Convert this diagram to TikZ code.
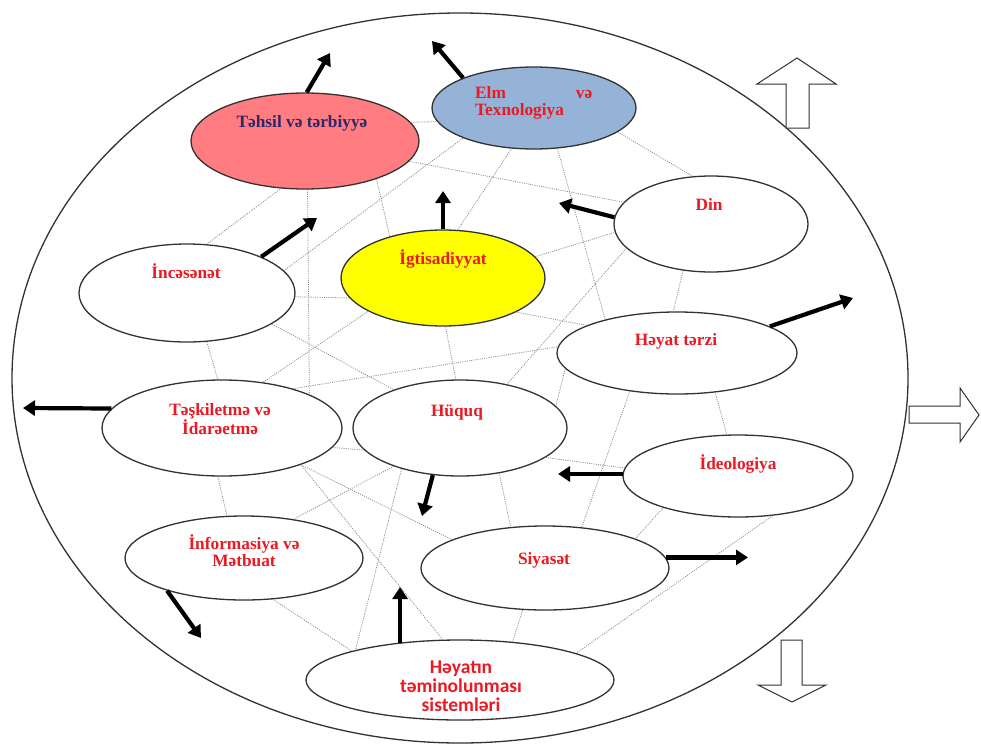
\documentclass[tikz,border=0pt]{standalone}
\usepackage{fontspec}
\setmainfont{Liberation Serif}
\newfontfamily\sansb{Carlito}
\usetikzlibrary{shapes.geometric,arrows.meta,calc}
\definecolor{lblred}{RGB}{235,25,35}
\definecolor{navy}{RGB}{45,40,105}
\definecolor{pinkfill}{RGB}{255,124,128}
\definecolor{bluefill}{RGB}{149,179,215}
\definecolor{yelfill}{RGB}{255,255,0}
\definecolor{webgray}{RGB}{140,140,140}
\definecolor{rimgray}{RGB}{50,50,50}
\tikzset{
 oval/.style={draw=rimgray, line width=1.3pt, ellipse, inner sep=0pt, fill=white},
 lbl/.style={text=lblred, font=\fontsize{17.3}{17}\selectfont\bfseries, inner sep=0pt, anchor=base},
 sanslbl/.style={text=lblred, font=\sansb\fontsize{19.5}{18}\selectfont\bfseries, inner sep=0pt, anchor=base},
 webline/.style={draw=webgray, line width=0.8pt, dash pattern=on 1pt off 1.2pt},
 push/.style={line width=4.2pt, -{Triangle[length=12pt,width=15pt]}},
 block/.style={draw=rimgray, line width=1pt, fill=white, line join=miter},
}
\newcommand\webln[4]{\draw[webline] let \p1=(#1.center), \p2=(#2), \p3=(#3.center), \p4=(#4),
  \n1={atan2(\y2-\y1,\x2-\x1)}, \n2={atan2(\y4-\y3,\x4-\x3)} in (#1.\n1) -- (#3.\n2);}
\newcommand\lines[1]{\begin{tabular}[t]{@{}c@{}}#1\end{tabular}}
\begin{document}
\begin{tikzpicture}[x=1pt,y=-1pt]
\fill[white] (0,0) rectangle (981,744);
\useasboundingbox (0,0) rectangle (981,744);

% outer ellipse
\node[oval, minimum width=896pt, minimum height=730pt] (outer) at (460,378) {};

% inner ellipses
\node[oval, fill=pinkfill, minimum width=228pt, minimum height=96pt] (teh) at (305,141) {};
\node[oval, fill=bluefill, minimum width=204pt, minimum height=82pt] (elm) at (534,108) {};
\node[oval, fill=yelfill, minimum width=204pt, minimum height=96pt] (iqt) at (443,278) {};
\node[oval, minimum width=194pt, minimum height=96pt] (din) at (711,224) {};
\node[oval, minimum width=216pt, minimum height=98pt] (inc) at (187,293) {};
\node[oval, minimum width=240pt, minimum height=82pt] (hey) at (677,353) {};
\node[oval, minimum width=240pt, minimum height=96pt] (tes) at (222,428) {};
\node[oval, minimum width=214pt, minimum height=96pt] (huq) at (460,428) {};
\node[oval, minimum width=230pt, minimum height=82pt] (ideo) at (738,476) {};
\node[oval, minimum width=238pt, minimum height=84pt] (inf) at (244,558) {};
\node[oval, minimum width=248pt, minimum height=84pt] (siy) at (545,568) {};
\node[oval, minimum width=308pt, minimum height=80pt] (hay) at (460,680) {};

% web of dotted links
\webln{teh}{411,121}{elm}{432,121}
\webln{teh}{411,162}{din}{617,202}
\webln{elm}{465,137}{inc}{290,268}
\webln{inc}{207,243}{teh}{282,185}
\webln{teh}{307,190}{tes}{307,394}
\webln{teh}{377,180}{iqt}{398,243}
\webln{elm}{510,150}{iqt}{457,230}
\webln{elm}{558,150}{hey}{603,320}
\webln{elm}{617,133}{din}{692,176}
\webln{iqt}{538,255}{din}{615,232}
\webln{din}{620,250}{huq}{505,385}
\webln{iqt}{517,313}{hey}{583,325}
\webln{inc}{297,298}{iqt}{343,298}
\webln{inc}{273,325}{huq}{398,393}
\webln{iqt}{363,313}{tes}{262,382}
\webln{inc}{207,343}{tes}{217,380}
\webln{tes}{295,387}{hey}{560,347}
\webln{iqt}{445,328}{huq}{455,380}
\webln{hey}{568,367}{huq}{547,407}
\webln{hey}{627,393}{siy}{580,528}
\webln{hey}{717,395}{ideo}{727,435}
\webln{din}{682,272}{hey}{673,312}
\webln{huq}{557,462}{ideo}{625,470}
\webln{ideo}{672,503}{siy}{627,540}
\webln{ideo}{772,516}{hay}{580,652}
\webln{siy}{522,610}{hay}{512,641}
\webln{tes}{217,476}{inf}{227,517}
\webln{tes}{332,448}{huq}{373,448}
\webln{tes}{298,465}{siy}{468,545}
\webln{tes}{305,468}{hay}{443,640}
\webln{huq}{390,468}{inf}{295,517}
\webln{huq}{410,463}{hay}{353,650}
\webln{inf}{273,600}{hay}{340,650}
\webln{huq}{500,475}{siy}{512,530}

% labels
\node[lbl, text=navy] (tteh) at (302,127) {Təhsil və tərbiyyə};
\node[lbl, anchor=base west] (telm) at (475,98) {\begin{tabular}[t]{@{}l@{}}\makebox[117pt][s]{Elm\hfill və}\\Texnologiya\end{tabular}};
\node[lbl] (tiqt) at (443,264) {İgtisadiyyat};
\node[lbl] (tdin) at (709,210) {Din};
\node[lbl] (tinc) at (186,278) {İncəsənət};
\node[lbl] (they) at (676,345) {Həyat tərzi};
\node[lbl] (ttes) at (220,415) {\lines{Təşkiletmə və\\İdarəetmə}};
\node[lbl] (thuq) at (457,416) {Hüquq};
\node[lbl] (tideo) at (738,469) {İdeologiya};
\node[lbl] (tinf) at (244,549) {\lines{İnformasiya və\\Mətbuat}};
\node[lbl] (tsiy) at (544,564) {Siyasət};
\node[sanslbl] (thay) at (461,673) {\lines{Həyatın\\təminolunması\\sistemləri}};

% black arrows
\coordinate (a1) at (330,53);
\coordinate (a2) at (432,41);
\coordinate (a3) at (443,191);
\coordinate (a4) at (317,218);
\coordinate (a5) at (559,203);
\coordinate (a6) at (853,298);
\coordinate (a7) at (23,408);
\coordinate (a8) at (422,516);
\coordinate (a9) at (558,474);
\coordinate (a10) at (748,557);
\coordinate (a11) at (201,638);
\coordinate (a12) at (400,587);
\draw[push] (teh.88) -- (a1);
\draw[push] (elm.157) -- (a2);
\draw[push] (iqt.north) -- (iqt.north |- a3);
\draw[push] (inc.26) -- (a4);
\draw[push] (din.176) -- (a5);
\draw[push] (hey.16) -- (a6);
\draw[push] (tes.170) -- (a7);
\draw[push] (huq.240) -- (a8);
\draw[push] (ideo.179) -- (ideo.179 -| a9);
\draw[push] (siy.5) -- (siy.5 -| a10);
\draw[push] (inf.203) -- (a11);
\draw[push] (hay.148) -- (hay.148 |- a12);

% hollow block arrows
\draw[block] (786,128) -- (809,128) -- (809,84) -- (836,84) -- (797,58) -- (757,84) -- (786,84) -- cycle;
\draw[block] (909,406) -- (960,406) -- (960,388) -- (979,415) -- (960,442) -- (960,423) -- (909,423) -- cycle;
\draw[block] (781,640) -- (802,640) -- (802,685) -- (826,685) -- (792,702) -- (758,685) -- (781,685) -- cycle;
\end{tikzpicture}
\end{document}
